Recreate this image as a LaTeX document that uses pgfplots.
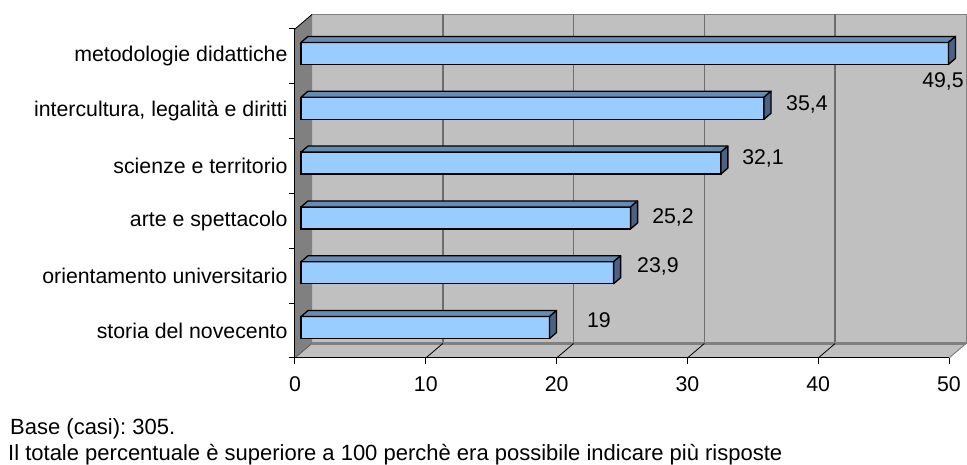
\documentclass[border=0pt]{standalone}
\usepackage{fontspec}
\setmainfont{Liberation Sans}
\usepackage{pgfplots}
\usepackage{pgfplotstable}
\pgfplotsset{compat=1.18}
\frenchspacing
\definecolor{wall}{RGB}{192,192,192}
\definecolor{sidewall}{RGB}{128,128,128}
\definecolor{gridc}{RGB}{110,110,110}
\definecolor{barfront}{RGB}{153,204,255}
\definecolor{bartop}{RGB}{102,140,180}
\definecolor{barside}{RGB}{76,98,130}

\pgfplotstableread{
k v lab lx ly
0 19 19 23.24 0.193
1 23.9 23,9 27.75 1.178
2 25.2 25,2 28.90 2.072
3 32.1 32,1 35.78 3.148
4 35.4 35,4 39.14 4.132
5 49.5 49,5 49.54 4.552
}\data

\begin{document}
\begin{tikzpicture}
\path[use as bounding box] (-295pt,-107pt) rectangle (672pt,358pt);
\begin{axis}[
  at={(0pt,0pt)}, anchor=south west,
  scale only axis, width=654pt, height=329pt,
  xmin=0, xmax=50, ymin=-0.5, ymax=5.5,
  clip=false, axis on top,
  axis x line*=bottom, axis y line*=left,
  axis line style={-, black, line width=1pt},
  xtick={0,10,20,30,40,50},
  ytick={-0.5,0.5,1.5,2.5,3.5,4.5,5.5},
  y tick label as interval,
  yticklabels={storia del novecento, orientamento universitario, arte e spettacolo, scienze e territorio, {intercultura, legalità e diritti}, metodologie didattiche, {}},
  tick align=outside, major tick length=6pt,
  tick style={black, line width=1pt},
  tick label style={font=\fontsize{21.3}{25}\selectfont},
  xticklabel style={yshift=-9pt},
  yticklabel style={xshift=2pt},
  /pgf/number format/assume math mode=true,
]
% back wall
\filldraw[fill=wall, draw=sidewall, line width=1pt]
  ([shift={(17pt,14.5pt)}]axis cs:0,-0.5) rectangle ([shift={(17pt,14.5pt)}]axis cs:50,5.5);
% grid lines on back wall
\pgfplotsinvokeforeach{10,20,30,40}{
  \draw[gridc, line width=1.5pt] ([shift={(17pt,14.5pt)}]axis cs:#1,-0.5) -- ([shift={(17pt,14.5pt)}]axis cs:#1,5.5);
}
% left wall
\filldraw[fill=sidewall, draw=sidewall, line width=0.5pt]
  (axis cs:0,-0.5) -- (axis cs:0,5.5) -- ([shift={(17pt,14.5pt)}]axis cs:0,5.5) -- ([shift={(17pt,14.5pt)}]axis cs:0,-0.5) -- cycle;
% floor
\filldraw[fill=wall, draw=none]
  (axis cs:0,-0.5) -- (axis cs:50,-0.5) -- ([shift={(17pt,14.5pt)}]axis cs:50,-0.5) -- ([shift={(17pt,14.5pt)}]axis cs:0,-0.5) -- cycle;
\draw[sidewall, line width=3pt] ([shift={(17pt,14.5pt)}]axis cs:0,-0.5) -- ([shift={(17pt,14.5pt)}]axis cs:50,-0.5);
\draw[sidewall, line width=1pt] (axis cs:50,-0.5) -- ([shift={(17pt,14.5pt)}]axis cs:50,-0.5);
\pgfplotsinvokeforeach{10,20,30,40}{
  \draw[black, line width=0.8pt] (axis cs:#1,-0.5) -- ([shift={(17pt,14.5pt)}]axis cs:#1,-0.5);
}
\draw[black, line width=0.8pt] (axis cs:0,5.5) -- ([shift={(17pt,14.5pt)}]axis cs:0,5.5);
\draw[gray!60!black, line width=0.6pt] (axis cs:0,-0.5) -- ([shift={(17pt,14.5pt)}]axis cs:0,-0.5);

% bars: front faces
\addplot[xbar, bar width=22pt, xshift=6pt, yshift=3pt, fill=barfront, draw=black, line width=1.3pt]
  table[x=v, y=k] {\data};

% bars: top and side faces
\pgfplotsinvokeforeach{0,...,5}{
  \pgfplotstablegetelem{#1}{v}\of\data \let\vv\pgfplotsretval
  \pgfplotstablegetelem{#1}{k}\of\data \let\kk\pgfplotsretval
  \edef\tmp{%
    \noexpand\filldraw[fill=bartop, draw=black, line width=1.3pt, line join=round]
      ([shift={(6pt,14pt)}]axis cs:0,\kk) -- ([shift={(6pt,14pt)}]axis cs:\vv,\kk) --
      ([shift={(13pt,20pt)}]axis cs:\vv,\kk) -- ([shift={(13pt,20pt)}]axis cs:0,\kk) -- cycle;
    \noexpand\filldraw[fill=barside, draw=black, line width=1.3pt, line join=round]
      ([shift={(6pt,-8pt)}]axis cs:\vv,\kk) -- ([shift={(6pt,14pt)}]axis cs:\vv,\kk) --
      ([shift={(13pt,20pt)}]axis cs:\vv,\kk) -- ([shift={(13pt,-2pt)}]axis cs:\vv,\kk) -- cycle;
  }
  \tmp
}

% data labels
\addplot[draw=none, mark=none, nodes near coords, point meta=explicit symbolic,
  nodes near coords style={anchor=center, font=\fontsize{21.3}{25}\selectfont, black}]
  table[x=lx, y=ly, meta=lab] {\data};
\end{axis}
\node[anchor=west, font=\fontsize{22}{26}\selectfont, inner sep=0pt] at (-285pt,-71pt) {Base (casi): 305.};
\node[anchor=west, font=\fontsize{22}{26}\selectfont, inner sep=0pt] at (-287pt,-97pt) {Il totale percentuale è superiore a 100 perchè era possibile indicare più risposte};
\end{tikzpicture}
\end{document}
